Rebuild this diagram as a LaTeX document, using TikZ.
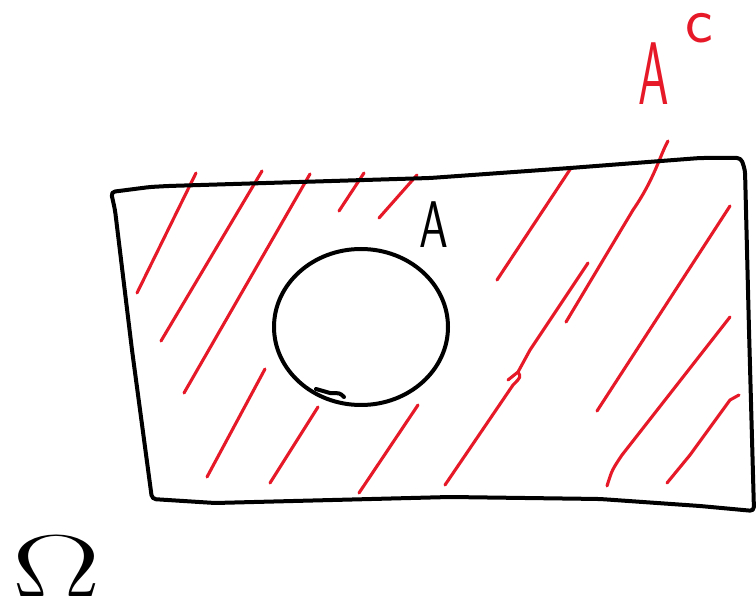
\documentclass[tikz,border=0pt]{standalone}
\usepackage{graphicx}
\definecolor{penred}{RGB}{230,25,40}
\begin{document}
\begin{tikzpicture}[x=1pt,y=-1pt,
  ink/.style={line width=4pt,line cap=round,line join=round},
  hatch/.style={penred,line width=3.1pt,line cap=round,line join=round},
  lettr/.style={inner sep=0pt,font=\sffamily\fontsize{66}{66}\selectfont}]
\useasboundingbox (0,0) rectangle (756,604);
% hatching (red)
\draw[hatch] (196,173) -- (137,293);
\draw[hatch] (262,171) -- (161,341);
\draw[hatch] (310,174) -- (184,393);
\draw[hatch] (364,173) -- (339,211);
\draw[hatch] (417,175) -- (379,218);
\draw[hatch] (571,168) -- (497,280);
\draw[hatch] (668,141) .. controls (660,155) and (655,178) .. (633,210) -- (566,322);
\draw[hatch] (588,263) -- (530,350) -- (518,372) -- (508,380);
\draw[hatch] (518,372) .. controls (521,377) .. (513,385) -- (445,485);
\draw[hatch] (730,206) -- (597,411);
\draw[hatch] (730,317) -- (622,455) .. controls (612,470) .. (607,486);
\draw[hatch] (739,395) -- (730,400) -- (690,455) -- (667,483);
\draw[hatch] (265,369) -- (207,477);
\draw[hatch] (318,407) -- (270,483);
\draw[hatch] (418,405) -- (359,493);
% sample space (black)
\draw[ink,rounded corners=4pt] (111,192) -- (150,187) -- (168,186) -- (430,178)
  -- (570,168) -- (700,158) -- (741,158) -- (745,170) -- (749,330) -- (754,511)
  -- (700,506) -- (600,499) -- (450,497) -- (215,503) -- (152,499)
  -- (132,350) -- (115,210) -- cycle;
% set A
\draw[ink] (361,327) ellipse [x radius=87, y radius=78];
\draw[ink] (316,389) -- (330,393) .. controls (340,393) .. (344,397);
% labels
\node[lettr,anchor=south] (A) at (434,248) {\scalebox{0.7}[1]{A}};
\node[lettr,text=penred,anchor=south west] (Ac) at (638,105)
  {\fontsize{89}{89}\selectfont\scalebox{0.55}[1]{A}\hspace{17pt}\raisebox{62pt}{\fontsize{66}{66}\selectfont c}};
\node[inner sep=0pt,anchor=south west,font=\fontsize{88}{88}\selectfont] (Om) at (12,597)
  {\scalebox{1.5}[1]{Ω}};
\end{tikzpicture}
\end{document}
